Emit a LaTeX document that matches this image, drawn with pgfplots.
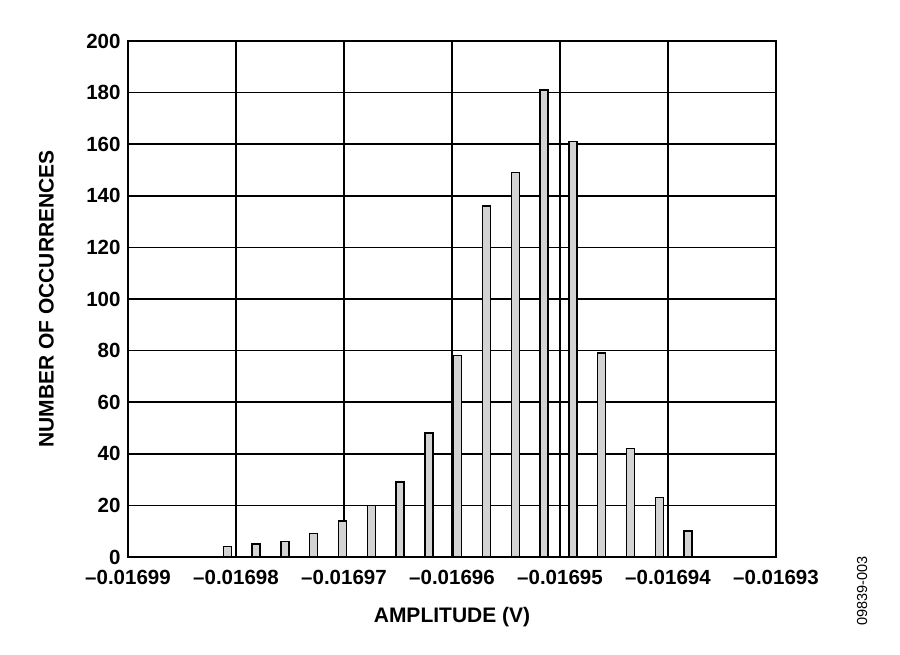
\documentclass[border=0pt]{standalone}
\usepackage{fontspec}
\setmainfont{Liberation Sans}
\usepackage{pgfplots}
\pgfplotsset{compat=1.18}
\definecolor{barfill}{HTML}{D3D3D3}
\begin{document}
\begin{tikzpicture}[x=1pt,y=1pt]
\path[use as bounding box] (0,0) rectangle (900,655);
\begin{axis}[
  at={(128pt,98pt)}, anchor=south west,
  scale only axis, width=648pt, height=516pt,
  xmin=-16990, xmax=-16930, ymin=0, ymax=200,
  scaled x ticks=false, scaled y ticks=false,
  xtick={-16990,-16980,-16970,-16960,-16950,-16940,-16930},
  xticklabels={\textendash0.01699,\textendash0.01698,\textendash0.01697,\textendash0.01696,\textendash0.01695,\textendash0.01694,\textendash0.01693},
  ytick={0,20,...,200},
  grid=major, major grid style={black, line width=1.6pt},
  axis line style={line width=2.2pt},
  major tick length=0pt,
  tick label style={font=\fontsize{20.5}{24}\selectfont\bfseries},
  /pgf/number format/assume math mode=true,
  xticklabel style={yshift=-10pt},
  yticklabel style={xshift=-4pt},
  clip=false,
]
% x in microvolts, y = number of occurrences
\addplot[ybar, bar width=8pt, fill=barfill, draw=black, line width=1.4pt] coordinates {
  (-16980.8,4) (-16978.13,5) (-16975.47,6) (-16972.8,9) (-16970.13,14)
  (-16967.47,20) (-16964.8,29) (-16962.13,48) (-16959.47,78) (-16956.8,136)
  (-16954.13,149) (-16951.47,181) (-16948.8,161) (-16946.13,79)
  (-16943.47,42) (-16940.8,23) (-16938.13,10)
};
\end{axis}
\node[anchor=base, font=\fontsize{21}{25}\selectfont\bfseries] at (452,32) {AMPLITUDE (V)};
\node[rotate=90, anchor=center, font=\fontsize{21}{25}\selectfont\bfseries] at (46.5,356) {NUMBER OF OCCURRENCES};
\node[rotate=90, anchor=center, font=\fontsize{14.5}{17}\selectfont] at (862,64) {09839-003};
\end{tikzpicture}
\end{document}
